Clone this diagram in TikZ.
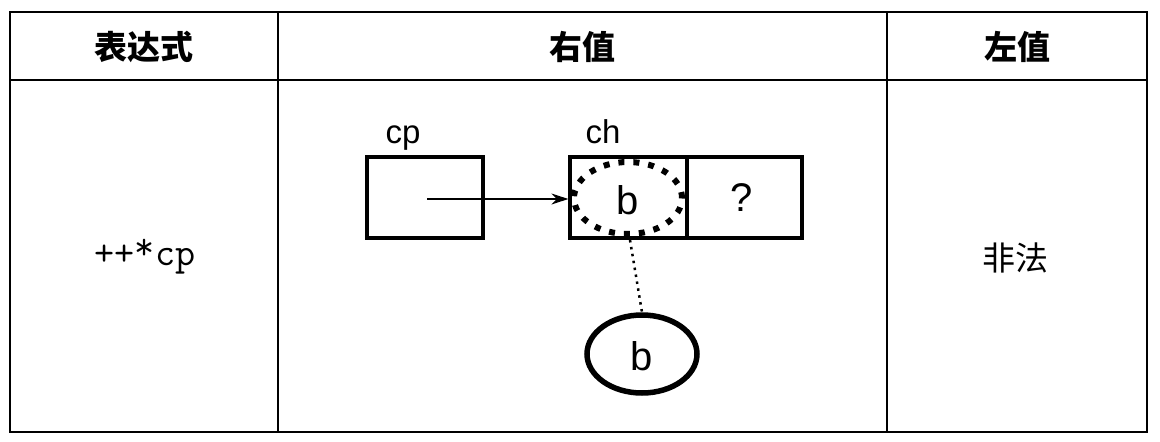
\documentclass[tikz,border=0pt]{standalone}
\usepackage{fontspec}
\setmainfont{Liberation Sans}
\newfontfamily\cjk{Noto Sans CJK SC}
\usetikzlibrary{arrows.meta,shapes.geometric}
\begin{document}
\begin{tikzpicture}[x=1pt,y=-1pt,
  tline/.style={line width=2.6pt},
  boxline/.style={line width=3.2pt},
  hdr/.style={font=\cjk\bfseries\fontsize{33}{33}\selectfont, inner sep=0pt},
  lbl/.style={font=\fontsize{33}{33}\selectfont, inner sep=0pt},
  big/.style={font=\fontsize{40}{40}\selectfont, inner sep=0pt}]
\useasboundingbox (0,0) rectangle (1160,442);
\fill[white] (0,0) rectangle (1160,442);
% table
\draw[tline] (10,12) rectangle (1147,432);
\draw[tline] (10,80) -- (1147,80);
\draw[tline] (278,12) -- (278,432);
\draw[tline] (887,12) -- (887,432);
% headers
\node[hdr] (h1) at (144,47) {表达式};
\node[hdr] (h2) at (582,47) {右值};
\node[hdr] (h3) at (1017,47) {左值};
% body texts
\node[font=\ttfamily\fontsize{39}{39}\selectfont, inner sep=0pt] (expr) at (145,257) {++\raisebox{0.35ex}{*}cp};
\node[font=\cjk\fontsize{33}{33}\selectfont, inner sep=0pt] (res) at (1015,258) {非法};
% cp box
\node[boxline, draw, minimum width=116pt, minimum height=81pt, inner sep=0pt] (cp) at (425,197.5) {};
\node[lbl, anchor=base] (cplbl) at (403,143) {cp};
% ch box
\node[boxline, draw, minimum width=117pt, minimum height=81pt, inner sep=0pt] (ch1) at (628.5,197.5) {};
\node[boxline, draw, minimum width=115pt, minimum height=81pt, inner sep=0pt] (ch2) at (744.5,197.5) {};
\node[lbl, anchor=base] (chlbl) at (603,143) {ch};
% dotted ellipse
\node[draw, ellipse, line width=6pt, dash pattern=on 6pt off 9pt, minimum width=108pt, minimum height=72pt, inner sep=0pt] (dot) at (628,198) {};
\node[big] (b1) at (628,200) {b};
\node[big] (q) at (742,198) {?};
% arrow
\coordinate (cpstart) at (427,199);
\draw[line width=1.4pt, -{Stealth[length=17pt,width=11pt]}] (cpstart) -- (ch1.west |- cpstart);
% lower ellipse
\node[draw, ellipse, line width=5.5pt, minimum width=110pt, minimum height=78pt, inner sep=0pt] (bval) at (642,354) {};
\node[big] (b2) at (642,356) {b};
\coordinate (dstart) at (630,240);
\draw[line width=2.5pt, dash pattern=on 2.5pt off 4.5pt] (dstart) -- (bval.north);
\end{tikzpicture}
\end{document}
